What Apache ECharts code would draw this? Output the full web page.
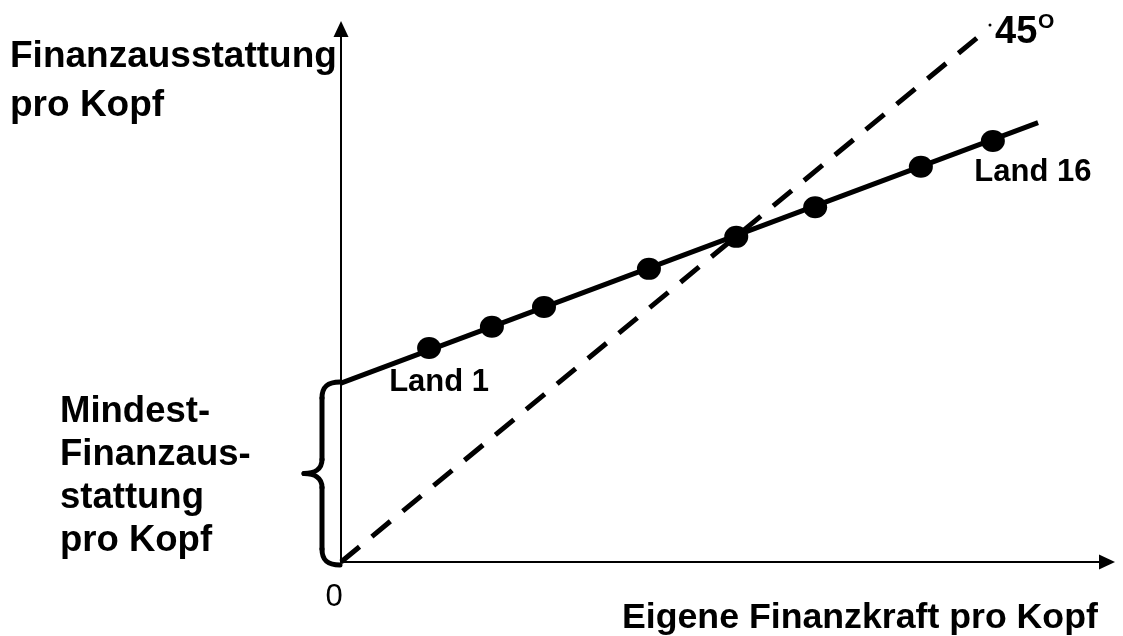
<!DOCTYPE html>
<html>
<head>
<meta charset="utf-8">
<script src="https://cdn.jsdelivr.net/npm/echarts@6/dist/echarts.min.js"></script>
<style>
html,body{margin:0;padding:0;background:#fff;}
#c{width:1123px;height:636px;}
</style>
</head>
<body>
<div id="c"></div>
<script>
// ---- data ----
const dotX = [11.5, 19.7, 26.5, 40.2, 51.6, 61.9, 75.7, 85.1];
const dotY = [28.1, 30.9, 33.5, 38.5, 42.7, 46.6, 51.9, 55.3];
const dotNames = ['Land 1', '', '', '', '', '', '', 'Land 16'];
const lineX = [0, 91.0];
const lineY = [23.5, 57.7];
const diagX = [0, 83.0];
const diagY = [0, 68.8];
const yTitle = ['Finanzausstattung', 'pro Kopf'];
const braceText = ['Mindest-', 'Finanzaus-', 'stattung', 'pro Kopf'];
const xTitle = 'Eigene Finanzkraft pro Kopf';
const originLabel = '0';
const angleLabel = '45';
const angleSup = 'O';

const FF = "'Liberation Sans', Arial, Helvetica, sans-serif";
const chart = echarts.init(document.getElementById('c'), null, {renderer: 'canvas'});

const labelOffsets = {0: [10, 34], 7: [40, 31.5]};
const dots = dotX.map((x, i) => {
  const item = {value: [x, dotY[i]], name: dotNames[i]};
  if (dotNames[i]) {
    item.label = {
      show: true, position: 'inside', offset: labelOffsets[i] || [0, 30],
      formatter: dotNames[i], color: '#000', opacity: 1, fontSize: 31, fontWeight: 'bold', fontFamily: FF
    };
  }
  return item;
});

const axisCommon = {
  type: 'value',
  axisTick: {show: false},
  axisLabel: {show: false},
  splitLine: {show: false},
  axisLine: {show: true, symbol: ['none', 'triangle'], symbolSize: [15, 16], lineStyle: {color: '#000', width: 2}}
};

chart.setOption({
  animation: false,
  backgroundColor: '#fff',
  grid: {left: 341, right: 16, top: 29, bottom: 74},
  xAxis: Object.assign({}, axisCommon, {min: 0, max: 100}),
  yAxis: Object.assign({}, axisCommon, {min: 0, max: 70}),
  series: [
    {
      type: 'line', data: diagX.map((x, i) => [x, diagY[i]]), showSymbol: false, z: 2,
      lineStyle: {color: '#000', width: 5, type: [24, 16], cap: 'butt', opacity: 1}
    },
    {
      type: 'line', data: lineX.map((x, i) => [x, lineY[i]]), showSymbol: false, z: 3,
      lineStyle: {color: '#000', width: 5, opacity: 1}
    },
    {
      type: 'scatter', data: dots, symbol: 'circle', symbolSize: [24, 22], z: 4,
      itemStyle: {color: '#000', opacity: 1}, label: {show: false}
    }
  ]
});

const p0 = chart.convertToPixel({gridIndex: 0}, [0, 0]);
const pT = chart.convertToPixel({gridIndex: 0}, [0, lineY[0]]);
const x0 = p0[0] - 1, yt = pT[1] - 1, yb = p0[1] + 3, ym = (yt + yb) / 2;
const bs = {stroke: '#000', lineWidth: 5, fill: null, lineCap: 'round'};
const xs = x0 - 18, xt = x0 - 36;

function txt(t, x, y, size, weight, align) {
  return {type: 'text', x: x, y: y, silent: true,
    style: {text: t, fill: '#000', font: weight + ' ' + size + 'px ' + FF, align: align || 'left', verticalAlign: 'middle'}};
}

const graphic = [
  txt(yTitle[0], 10, 57, 37, 'bold'),
  txt(yTitle[1], 10, 106, 37, 'bold'),
  txt(braceText[0], 60, 411.5, 36.5, 'bold'),
  txt(braceText[1], 60, 454.5, 36.5, 'bold'),
  txt(braceText[2], 60, 497.5, 36.5, 'bold'),
  txt(braceText[3], 60, 540.5, 36.5, 'bold'),
  txt(xTitle, 622, 618.5, 35.7, 'bold'),
  txt(originLabel, 334, 597, 31, 'normal', 'center'),
  txt(angleLabel, 995, 33, 38, 'bold'),
  txt(angleSup, 1038, 22, 21, 'bold'),
  {type: 'circle', shape: {cx: 990, cy: 25, r: 1.5}, style: {fill: '#000'}, silent: true},
  {type: 'bezierCurve', shape: {x1: x0, y1: yt, cpx1: x0 - 12, cpy1: yt, cpx2: xs, cpy2: yt + 4, x2: xs, y2: yt + 16}, style: bs, silent: true},
  {type: 'line', shape: {x1: xs, y1: yt + 16, x2: xs, y2: ym - 14}, style: bs, silent: true},
  {type: 'bezierCurve', shape: {x1: xs, y1: ym - 14, cpx1: xs, cpy1: ym - 4, cpx2: xt + 10, cpy2: ym, x2: xt, y2: ym}, style: bs, silent: true},
  {type: 'bezierCurve', shape: {x1: xt, y1: ym, cpx1: xt + 10, cpy1: ym, cpx2: xs, cpy2: ym + 4, x2: xs, y2: ym + 14}, style: bs, silent: true},
  {type: 'line', shape: {x1: xs, y1: ym + 14, x2: xs, y2: yb - 16}, style: bs, silent: true},
  {type: 'bezierCurve', shape: {x1: xs, y1: yb - 16, cpx1: xs, cpy1: yb - 4, cpx2: x0 - 12, cpy2: yb, x2: x0, y2: yb}, style: bs, silent: true}
];
chart.setOption({graphic: graphic});
</script>
</body>
</html>
